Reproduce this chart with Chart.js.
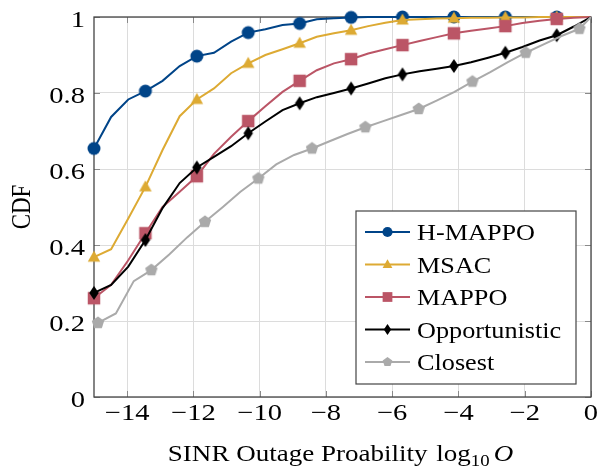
<!DOCTYPE html>
<html>
<head>
<meta charset="utf-8">
<script src="https://cdn.jsdelivr.net/npm/chart.js@4.4.1/dist/chart.umd.min.js"></script>
<style>
  html, body { margin: 0; padding: 0; background: #ffffff; }
  #wrap { width: 608px; height: 471px; position: relative; }
</style>
</head>
<body>
<div id="wrap"><canvas id="c" width="608" height="471"></canvas></div>
<script>
// ---- data ----
const X_MAIN = [-15, -14.483, -13.966, -13.448, -12.931, -12.414, -11.897, -11.379, -10.862, -10.345,
  -9.828, -9.310, -8.793, -8.276, -7.759, -7.241, -6.724, -6.207, -5.690, -5.172,
  -4.655, -4.138, -3.621, -3.103, -2.586, -2.069, -1.552, -1.034, -0.517, 0];
const X_CLOSEST = [-14.88, -14.34, -13.80, -13.27, -12.73, -12.19, -11.65, -11.11, -10.58, -10.04,
  -9.50, -8.96, -8.42, -7.89, -7.35, -6.81, -6.27, -5.73, -5.20, -4.66,
  -4.12, -3.58, -3.04, -2.51, -1.97, -1.43, -0.89, -0.35, 0];

const H_MAPPO = [0.654, 0.737, 0.783, 0.805, 0.832, 0.871, 0.897, 0.906, 0.935, 0.959,
  0.968, 0.979, 0.983, 0.994, 0.997, 0.999, 1, 1, 1, 1,
  1, 1, 1, 1, 1, 1, 1, 1, 1, 1];
const MSAC = [0.368, 0.389, 0.470, 0.553, 0.650, 0.739, 0.783, 0.812, 0.852, 0.878,
  0.900, 0.915, 0.931, 0.948, 0.957, 0.965, 0.976, 0.985, 0.992, 0.994,
  0.996, 0.997, 0.998, 0.998, 0.999, 0.999, 1, 1, 1, 1];
const MAPPO = [0.260, 0.295, 0.360, 0.431, 0.500, 0.540, 0.581, 0.640, 0.685, 0.726,
  0.765, 0.803, 0.832, 0.860, 0.878, 0.889, 0.904, 0.915, 0.926, 0.937,
  0.947, 0.957, 0.964, 0.970, 0.976, 0.984, 0.990, 0.995, 0.998, 1.0];
const OPPORTUNISTIC = [0.274, 0.295, 0.343, 0.413, 0.497, 0.563, 0.604, 0.632, 0.660, 0.694,
  0.725, 0.755, 0.773, 0.789, 0.800, 0.812, 0.825, 0.839, 0.849, 0.857,
  0.864, 0.871, 0.881, 0.893, 0.906, 0.921, 0.938, 0.952, 0.975, 1.0];
const CLOSEST = [0.195, 0.220, 0.305, 0.334, 0.375, 0.420, 0.461, 0.500, 0.540, 0.575,
  0.612, 0.637, 0.654, 0.673, 0.692, 0.710, 0.726, 0.742, 0.758, 0.780,
  0.803, 0.830, 0.855, 0.881, 0.906, 0.928, 0.950, 0.969, 1.0];

const X_TICKS = [-14, -12, -10, -8, -6, -4, -2, 0];
const Y_TICKS = [0, 0.2, 0.4, 0.6, 0.8, 1];
const LABELS = ['H-MAPPO', 'MSAC', 'MAPPO', 'Opportunistic', 'Closest'];
const X_TITLE = 'SINR Outage Proability';
const Y_TITLE = 'CDF';

// ---- styles ----
const COLORS = ['#004488', '#DDAA33', '#BB5566', '#000000', '#AAAAAA'];
const MARKERS = ['circle', 'triangle', 'square', 'diamond', 'pentagon'];
const FONT = '"Liberation Serif", "Times New Roman", serif';

function drawMarker(ctx, type, cx, cy, s, color) {
  ctx.save();
  ctx.fillStyle = color;
  ctx.beginPath();
  if (type === 'circle') {
    ctx.arc(cx, cy, 6.5 * s, 0, Math.PI * 2);
  } else if (type === 'triangle') {
    const w = 12.5 * s, h = 11 * s;
    ctx.moveTo(cx, cy - h * 0.6);
    ctx.lineTo(cx + w / 2, cy + h * 0.4);
    ctx.lineTo(cx - w / 2, cy + h * 0.4);
  } else if (type === 'square') {
    const a = 12.5 * s;
    ctx.rect(cx - a / 2, cy - a / 2, a, a);
  } else if (type === 'diamond') {
    const w = 9.5 * s, h = 14 * s;
    ctx.moveTo(cx, cy - h / 2);
    ctx.lineTo(cx + w / 2, cy);
    ctx.lineTo(cx, cy + h / 2);
    ctx.lineTo(cx - w / 2, cy);
  } else if (type === 'pentagon') {
    const r = 6.5 * s;
    for (let i = 0; i < 5; i++) {
      const a = -Math.PI / 2 + i * 2 * Math.PI / 5;
      const px = cx + r * Math.cos(a), py = cy + r * Math.sin(a);
      if (i === 0) ctx.moveTo(px, py); else ctx.lineTo(px, py);
    }
  }
  ctx.closePath();
  ctx.fill();
  ctx.restore();
}

function markerCanvas(type, color) {
  const c = document.createElement('canvas');
  c.width = 16; c.height = 16;
  drawMarker(c.getContext('2d'), type, 8, 8, 1, color);
  return c;
}

function pts(xs, ys) { return xs.map((x, i) => ({ x: x, y: ys[i] })); }

// text drawn with a slight horizontal stretch (reference glyphs are wide)
function sText(ctx, text, x, y, sx, align, font) {
  ctx.save();
  ctx.font = font;
  ctx.translate(x, y);
  ctx.scale(sx, 1);
  ctx.textAlign = align;
  ctx.textBaseline = 'alphabetic';
  ctx.fillText(text, 0, 0);
  ctx.restore();
}

const SERIES = [H_MAPPO, MSAC, MAPPO, OPPORTUNISTIC, CLOSEST];
const XS = [X_MAIN, X_MAIN, X_MAIN, X_MAIN, X_CLOSEST];

const datasets = SERIES.map((ys, i) => ({
  label: LABELS[i],
  data: pts(XS[i], ys),
  borderColor: COLORS[i],
  backgroundColor: COLORS[i],
  borderWidth: 2,
  showLine: true,
  tension: 0,
  clip: false,
  order: 5 - i,
  pointStyle: markerCanvas(MARKERS[i], COLORS[i]),
  pointRadius: ctx => (ctx.dataIndex % 3 === 0 ? 6 : 0),
  pointHoverRadius: 0
}));

const TICK_FONT = '23px ' + FONT;
const TICK_SX = 1.24;

const frameAndTicks = {
  id: 'frameAndTicks',
  beforeDatasetsDraw(chart) {
    const { ctx, chartArea: a, scales } = chart;
    ctx.save();
    ctx.strokeStyle = '#8a8a8a';
    ctx.lineWidth = 1;
    const L = 6;
    X_TICKS.forEach(v => {
      const x = Math.round(scales.x.getPixelForValue(v)) + 0.5;
      ctx.beginPath();
      ctx.moveTo(x, a.bottom); ctx.lineTo(x, a.bottom - L);
      ctx.moveTo(x, a.top); ctx.lineTo(x, a.top + L);
      ctx.stroke();
    });
    Y_TICKS.forEach(v => {
      const y = Math.round(scales.y.getPixelForValue(v)) + 0.5;
      ctx.beginPath();
      ctx.moveTo(a.left, y); ctx.lineTo(a.left + L, y);
      ctx.moveTo(a.right, y); ctx.lineTo(a.right - L, y);
      ctx.stroke();
    });
    ctx.strokeStyle = '#444444';
    ctx.lineWidth = 1.3;
    ctx.strokeRect(a.left, a.top, a.right - a.left, a.bottom - a.top);
    ctx.restore();
  },
  afterDraw(chart) {
    const { ctx, chartArea: a, scales } = chart;
    ctx.save();
    ctx.fillStyle = '#000';

    // tick labels, positioned by the library's scales
    X_TICKS.forEach(v => {
      const x = scales.x.getPixelForValue(v);
      sText(ctx, String(v).replace('-', '\u2212'), x, 420, TICK_SX, 'center', TICK_FONT);
    });
    Y_TICKS.forEach(v => {
      const y = scales.y.getPixelForValue(v);
      sText(ctx, String(+v.toFixed(1)), 85, y + 10, TICK_SX, 'right', TICK_FONT);
    });

    // y title (rotated)
    ctx.save();
    ctx.font = '23px ' + FONT;
    ctx.textAlign = 'center';
    ctx.textBaseline = 'middle';
    ctx.translate(23, (a.top + a.bottom) / 2);
    ctx.scale(1.2, 1);
    ctx.rotate(-Math.PI / 2);
    ctx.fillText(Y_TITLE, 0, 0);
    ctx.restore();

    // x title with subscript
    const sx = 1.175;
    const fMain = '23px ' + FONT, fSub = '16px ' + FONT, fIt = 'italic 23px ' + FONT;
    ctx.font = fMain;
    const w1 = ctx.measureText(X_TITLE + ' log').width * sx + 2;
    ctx.font = fSub;
    const w2 = ctx.measureText('10').width * sx;
    ctx.font = fIt;
    const w3 = ctx.measureText('O').width * sx;
    const gap = 4;
    const total = w1 + w2 + gap + w3;
    let x = (a.left + a.right) / 2 - 2 - total / 2;
    const yb = 461;
    sText(ctx, X_TITLE, x, yb, sx, 'left', fMain);
    ctx.font = fMain;
    const wT = ctx.measureText(X_TITLE + ' ').width * sx + 2;
    sText(ctx, 'log', x + wT, yb, sx, 'left', fMain);
    x += w1;
    sText(ctx, '10', x, yb + 5, sx, 'left', fSub); x += w2 + gap;
    sText(ctx, 'O', x, yb, sx, 'left', fIt);

    // legend
    const bx = 356, by = 211, bw = 220, bh = 173;
    ctx.fillStyle = '#ffffff';
    ctx.fillRect(bx, by, bw, bh);
    ctx.strokeStyle = '#444444';
    ctx.lineWidth = 1.2;
    ctx.strokeRect(bx, by, bw, bh);
    LABELS.forEach((lab, i) => {
      const y = 232 + i * 32.5;
      ctx.strokeStyle = COLORS[i];
      ctx.lineWidth = 2;
      ctx.beginPath();
      ctx.moveTo(365, y); ctx.lineTo(410, y);
      ctx.stroke();
      drawMarker(ctx, MARKERS[i], 387.5, y, 0.78, COLORS[i]);
      ctx.fillStyle = '#000';
      sText(ctx, lab, 417, y + 8, 1.14, 'left', '23px ' + FONT);
    });
    ctx.restore();
  }
};

Chart.defaults.font.family = FONT;
Chart.defaults.color = '#000';

new Chart(document.getElementById('c'), {
  type: 'scatter',
  data: { datasets: datasets },
  options: {
    responsive: false,
    animation: false,
    events: [],
    layout: { padding: { top: 17, right: 17, left: 0, bottom: 0 } },
    plugins: { legend: { display: false }, tooltip: { enabled: false } },
    scales: {
      x: {
        type: 'linear',
        min: -15, max: 0,
        afterBuildTicks: s => { s.ticks = X_TICKS.map(v => ({ value: v })); },
        afterFit: s => { s.height = 74; },
        grid: { color: '#dcdcdc', lineWidth: 1, drawTicks: false },
        border: { display: false },
        ticks: { display: false }
      },
      y: {
        type: 'linear',
        min: 0, max: 1,
        afterBuildTicks: s => { s.ticks = Y_TICKS.map(v => ({ value: v })); },
        afterFit: s => { s.width = 94; },
        grid: { color: '#dcdcdc', lineWidth: 1, drawTicks: false },
        border: { display: false },
        ticks: { display: false }
      }
    }
  },
  plugins: [frameAndTicks]
});
</script>
</body>
</html>
